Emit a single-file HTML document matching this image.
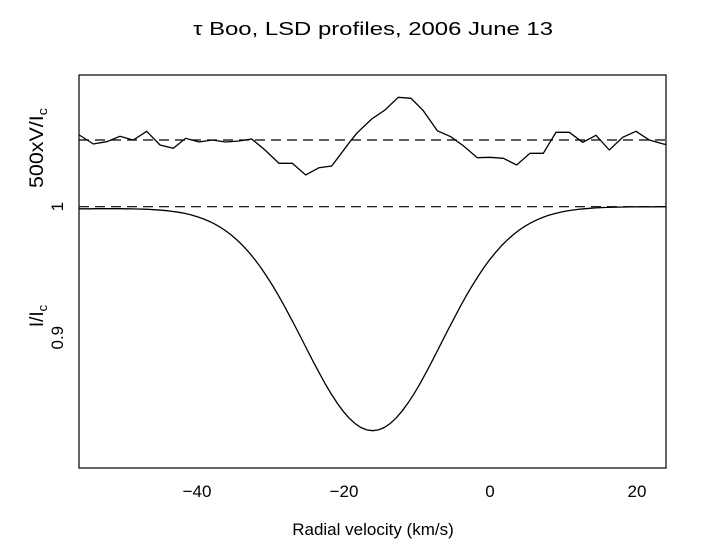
<!DOCTYPE html>
<html><head><meta charset="utf-8"><style>
html,body{margin:0;padding:0;background:#fff;}
svg{display:block;font-family:"Liberation Sans","DejaVu Sans",sans-serif;}
</style></head><body>
<svg id="s" width="703" height="552" viewBox="0 0 703 552" xmlns="http://www.w3.org/2000/svg">
<rect width="703" height="552" fill="#fff"/>
<text x="373" y="35" font-size="18" text-anchor="middle" textLength="360" lengthAdjust="spacingAndGlyphs">τ Boo, LSD profiles, 2006 June 13</text>
<rect x="79" y="75" width="587" height="393" fill="none" stroke="#000" stroke-width="1.2"/>
<g id="ticks" stroke="#000" stroke-width="1.2"></g>
<line x1="79" y1="140" x2="666" y2="140" stroke="#000" stroke-width="1.2" stroke-dasharray="10,6"/>
<line x1="79" y1="206.7" x2="666" y2="206.7" stroke="#000" stroke-width="1.2" stroke-dasharray="10,6"/>
<polyline fill="none" stroke="#000" stroke-width="1.3" points="79.3,135 93.3,144 106.7,141.7 120,136.3 133.3,140 146.7,131.3 160,145 173.3,148.3 185.7,138.3 199,142 212.3,140 225.7,142 239,141 251.7,139 265,150 279,163.3 292.3,163.3 305.7,175 319,167.7 331.7,166 350,141.7 356.7,133.3 371.7,119 385,110 398.3,97.3 411,98.3 423.3,110.7 437.3,130.7 450.7,136.7 463.3,145.7 477.3,157.7 490,157.3 503.3,158.3 516.7,165 530,153.3 543.3,153.3 556,132.3 569.3,132.3 582.7,142.3 596,135.3 609.3,150 622.7,137.3 636,131.3 649.3,140 663.3,144 666,144.5"/>
<path id="prof" fill="none" stroke="#000" stroke-width="1.3" d=""/>
<g font-size="17" text-anchor="middle">
<text x="197" y="497">−40</text>
<text x="344" y="497">−20</text>
<text x="490" y="497">0</text>
<text x="637" y="497">20</text>
<text x="373" y="535">Radial velocity (km/s)</text>
</g>
<g font-size="17" text-anchor="middle">
<text transform="translate(63,206.7) rotate(-90)">1</text>
<text transform="translate(63,337.7) rotate(-90)">0.9</text>
</g>
<g font-size="19" text-anchor="middle">
<text transform="translate(43,148) rotate(-90)" textLength="80" lengthAdjust="spacingAndGlyphs">500xV/I<tspan font-size="13" dy="4">c</tspan></text>
<text transform="translate(43,316) rotate(-90)">I/I<tspan font-size="13" dy="4">c</tspan></text>
</g>
<script>
(function(){
var X=function(v){return 490+(v)*7.3375;};
var Y=function(i){return 206.7-(i-1)*1310;};
var g=document.getElementById('ticks'),h='';
for(var v=-50;v<=20;v+=10){var x=X(v),L=(v%20===0)?13:7;
h+='<line x1="'+x+'" y1="468" x2="'+x+'" y2="'+(468-L)+'"/><line x1="'+x+'" y1="75" x2="'+x+'" y2="'+(75+L)+'"/>';}
for(var k=41;k<55;k++){var i=k/50,y=Y(i),L=(k===45||k===50)?13:7;
h+='<line x1="79" y1="'+y+'" x2="'+(79+L)+'" y2="'+y+'"/><line x1="666" y1="'+y+'" x2="'+(666-L)+'" y2="'+y+'"/>';}
g.innerHTML=h;
var d='';
for(var v=-56;v<=24.01;v+=0.8){var s=9.4;var I=1-0.0016*Math.max(0,(-20-v)/36)-0.171*Math.exp(-Math.pow(v+16,2)/(2*s*s));
d+=(d?'L':'M')+X(v).toFixed(1)+','+Y(I).toFixed(1);}
document.getElementById('prof').setAttribute('d',d);
})();
</script>
</svg>
</body></html>
